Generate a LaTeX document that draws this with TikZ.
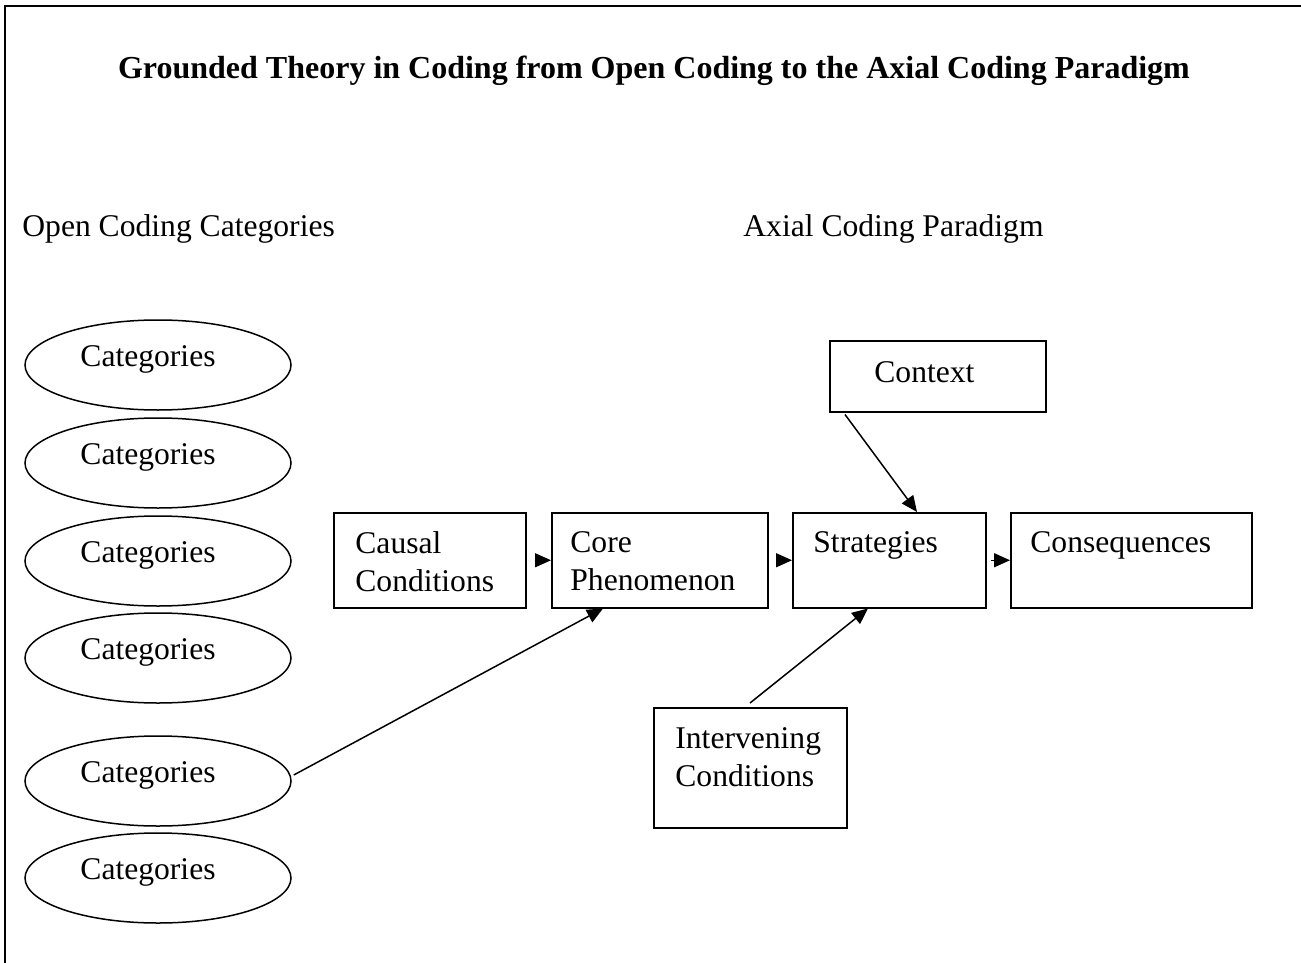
\documentclass[tikz,border=0pt]{standalone}
\usepackage{fontspec}
\setmainfont{Liberation Serif}
\usetikzlibrary{arrows.meta,shapes.geometric}

\tikzset{
  cat/.style={draw, ellipse, line width=0.75pt, minimum width=133pt, minimum height=45pt, inner sep=0pt},
  box/.style={draw, line width=0.75pt, anchor=north west, inner sep=0pt},
  txt/.style={anchor=north west, align=left, inner sep=0pt},
  arr/.style={line width=0.75pt, -{Triangle[length=8pt,width=7pt]}}
}

\begin{document}
\begin{tikzpicture}[x=0.5pt,y=-0.5pt,font=\fontsize{15.8}{19}\selectfont]
\useasboundingbox (0,0) rectangle (1301,963);
\draw[line width=1pt] (5,963) -- (5,6) -- (1301,6);

\node[anchor=base,inner sep=0pt,font=\fontsize{16}{19}\selectfont\bfseries] (title) at (654,79)
  {Grounded Theory in Coding from Open Coding to the Axial Coding Paradigm};
\node[anchor=base west,inner sep=0pt] (open) at (22,236) {Open Coding Categories};
\node[anchor=base west,inner sep=0pt] (axial) at (743,236) {Axial Coding Paradigm};

% open coding
\foreach \y [count=\i] in {365,463,561,658,781,878}{
  \node[cat] (cat\i) at (158,\y) {};
  \node[inner sep=0pt] (cat\i-t) at ([shift={(-10,-6)}]cat\i.center) {Categories};
}

% paradigm boxes
\node[box, minimum width=96pt, minimum height=47.5pt] (causal) at (333,512) {};
\node[box, minimum width=108pt, minimum height=47.5pt] (core) at (551,512) {};
\node[box, minimum width=96.5pt, minimum height=47.5pt] (strat) at (792,512) {};
\node[box, minimum width=120.5pt, minimum height=47.5pt] (conseq) at (1010,512) {};
\node[box, minimum width=108pt, minimum height=35.5pt] (context) at (829,340) {};
\node[box, minimum width=96.5pt, minimum height=60pt] (interv) at (653,707) {};

\node[txt] (causal-t) at (355,531) {Causal\\Conditions};
\node[txt] (core-t) at (570,531) {Core\\Phenomenon};
\node[txt] (strat-t) at (813,531) {Strategies};
\node[txt] (conseq-t) at (1030,531) {Consequences};
\node[txt] (context-t) at (874,361) {Context};
\node[txt] (interv-t) at (675,727) {Intervening\\Conditions};

\draw[arr] ([xshift=4pt]causal.east) -- (core.west);
\draw[arr] ([xshift=4pt]core.east) -- (strat.west);
\draw[arr] ([xshift=2pt]strat.east) -- (conseq.west);
\draw[arr] ([shift={(16,2)}]context.south west) -- ([shift={(125,0)}]strat.north west);
\draw[arr] ([shift={(97,-4)}]interv.north west) -- ([shift={(76,0)}]strat.south west);
\draw[arr] ([shift={(2,-6)}]cat5.east) -- ([shift={(52,0)}]core.south west);
\end{tikzpicture}
\end{document}
